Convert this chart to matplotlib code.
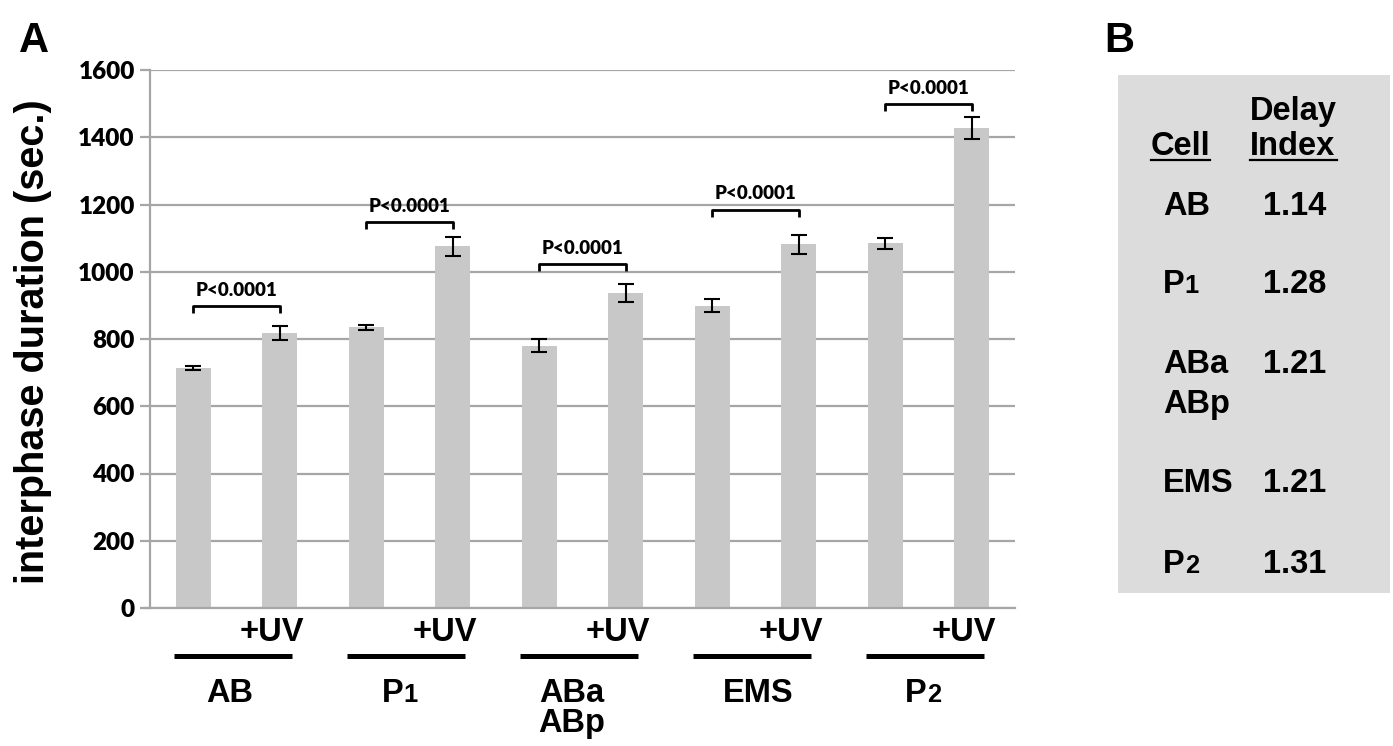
import matplotlib
matplotlib.use("Agg")
import matplotlib.pyplot as plt
from matplotlib import transforms
from matplotlib.patches import Rectangle
from matplotlib.lines import Line2D

# ---- data ----
cells = ["AB", "P1", "ABa\nABp", "EMS", "P2"]
bar_labels = ["", "+UV", "", "+UV", "", "+UV", "", "+UV", "", "+UV"]
durations = [714, 818, 835, 1076, 780, 937, 899, 1082, 1085, 1428]
errors = [5, 22, 7, 28, 20, 28, 20, 28, 16, 33]
bracket_y = [899, 1149, 1024, 1185, 1500]
p_text = "P<0.0001"
yticks = [0, 200, 400, 600, 800, 1000, 1200, 1400, 1600]

delay_cells = ["AB", "P1", "ABa\nABp", "EMS", "P2"]
delay_index = ["1.14", "1.28", "1.21", "1.21", "1.31"]

W, H = 1393, 746
fig = plt.figure(figsize=(W / 100, H / 100), dpi=100)
ax = fig.add_axes([150 / W, 1 - 608 / H, 865 / W, 538 / H])

SANS = ["Liberation Sans", "DejaVu Sans"]
CAL = ["Lato", "Liberation Sans", "DejaVu Sans"]


def fy(py):
    return 1 - py / H


def label(host, x, y, s, transform, size, center=True, line_gap=30):
    """bold label; a trailing digit is drawn smaller, like P1 / P2"""
    for k, line in enumerate(s.split("\n")):
        yy = y - k * line_gap / H
        head, tail = line, ""
        if line[-1].isdigit():
            head, tail = line[:-1], line[-1]
        if not tail:
            host.text(x, yy, head, transform=transform,
                      ha="center" if center else "left", va="baseline",
                      family=SANS, fontweight="bold", fontsize=size)
            continue
        small = size * 0.78
        w_head = 0.667 * size
        w_tail = 0.556 * small
        x0 = -(w_head + w_tail) / 2 if center else 0
        t1 = transform + transforms.ScaledTranslation(x0 / 72, 0, fig.dpi_scale_trans)
        t2 = transform + transforms.ScaledTranslation((x0 + w_head) / 72, 0, fig.dpi_scale_trans)
        host.text(x, yy, head, transform=t1, ha="left", va="baseline",
                  family=SANS, fontweight="bold", fontsize=size)
        host.text(x, yy, tail, transform=t2, ha="left", va="baseline",
                  family=SANS, fontweight="bold", fontsize=small)


grid_c = "#a6a6a6"
xs = list(range(len(durations)))
ax.bar(xs, durations, width=0.4, color="#c8c8c8", zorder=2)
ax.errorbar(xs, durations, yerr=errors, fmt="none", ecolor="black",
            elinewidth=1.5, capsize=6, capthick=1.5, zorder=3)

ax.set_xlim(-0.5, len(durations) - 0.5)
ax.set_ylim(0, 1600)
ax.set_yticks(yticks)
ax.set_yticklabels([str(t) for t in yticks], family=CAL,
                   fontweight="heavy", fontsize=17.5)
ax.set_xticks([])
ax.yaxis.grid(True, color=grid_c, linewidth=1.6, zorder=0)
ax.tick_params(axis="y", length=7, width=1.6, color=grid_c, pad=4)
for s in ["top", "right"]:
    ax.spines[s].set_visible(False)
ax.spines["left"].set_color(grid_c)
ax.spines["left"].set_linewidth(1.6)
ax.spines["bottom"].set_color(grid_c)
ax.spines["bottom"].set_linewidth(1.6)
ax.spines["bottom"].set_bounds(-0.58, len(durations) - 0.5)

# significance brackets
for g, by in enumerate(bracket_y):
    x0, x1 = 2 * g, 2 * g + 1
    ax.plot([x0, x0, x1, x1], [by - 21, by, by, by - 21], color="black",
            lw=2, zorder=4, solid_capstyle="butt")
    ax.text((x0 + x1) / 2, by + 30, p_text, ha="center", va="baseline",
            family=CAL, fontweight="heavy", fontsize=13.5)

# category labels below the axis
tr = transforms.blended_transform_factory(ax.transData, fig.transFigure)
for i, lab in enumerate(bar_labels):
    if lab:
        ax.text(i - 0.09, fy(641), lab, transform=tr, ha="center",
                va="baseline", family=SANS, fontweight="bold", fontsize=23.5)
name_shift = [0.425, 0.39, 0.37, 0.53, 0.44]
for g, name in enumerate(cells):
    ax.add_line(Line2D([2 * g - 0.22, 2 * g + 1.14], [fy(655.5)] * 2,
                       transform=tr, color="black", lw=3.6, clip_on=False,
                       solid_capstyle="butt"))
    label(ax, 2 * g + name_shift[g], fy(702), name, tr, 23.5)

fig.text(33 / W, fy(342), "interphase duration (sec.)", rotation=90,
         ha="center", va="center", family=SANS, fontweight="bold",
         fontsize=28.5)

fig.text(19 / W, fy(52), "A", ha="left", va="baseline", family=SANS,
         fontweight="bold", fontsize=30)
fig.text(1104 / W, fy(52), "B", ha="left", va="baseline", family=SANS,
         fontweight="bold", fontsize=30)

# ---- panel B table ----
fig.patches.append(Rectangle((1118 / W, fy(593)), 272 / W, 518 / H,
                             transform=fig.transFigure, facecolor="#dcdcdc",
                             edgecolor="none", zorder=-1))
fig.text(1250 / W, fy(120), "Delay", ha="left", va="baseline",
         family=SANS, fontweight="bold", fontsize=23.5)
fig.text(1250 / W, fy(155), "Index", ha="left", va="baseline",
         family=SANS, fontweight="bold", fontsize=23.5)
fig.text(1151 / W, fy(155), "Cell", ha="left", va="baseline",
         family=SANS, fontweight="bold", fontsize=23.5)
for xa, xb in [(1151, 1210), (1250, 1337)]:
    fig.add_artist(Line2D([xa / W, xb / W], [fy(159.5)] * 2,
                          transform=fig.transFigure, color="black", lw=1.6))

row_base = [215, 293, 373, 492, 573]
for name, val, yy in zip(delay_cells, delay_index, row_base):
    label(fig, 1163 / W, fy(yy), name, fig.transFigure, 23.5, center=False,
          line_gap=40)
    fig.text(1263 / W, fy(yy), val, ha="left", va="baseline",
             family=SANS, fontweight="bold", fontsize=23.5)

fig.savefig("out.png", dpi=100)
